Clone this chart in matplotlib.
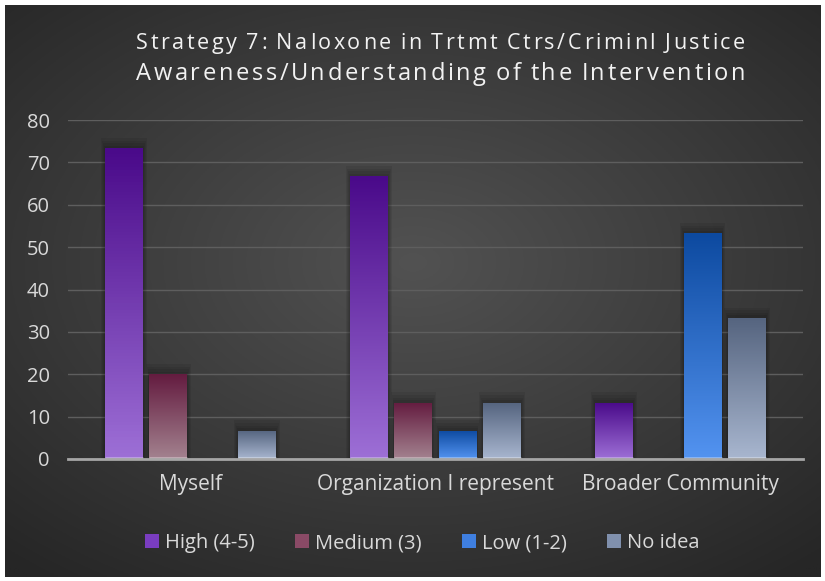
import numpy as np
import matplotlib
matplotlib.use('Agg')
import matplotlib.pyplot as plt
from matplotlib.colors import LinearSegmentedColormap
from matplotlib.patches import Patch

plt.rcParams['font.family'] = ['Open Sans', 'DejaVu Sans']

# 数据
categories = ['Myself', 'Organization I represent', 'Broader Community']
series_names = ['High (4-5)', 'Medium (3)', 'Low (1-2)', 'No idea']
high = [73.3, 66.7, 13.3]
medium = [20.0, 13.3, 0.0]
low = [0.0, 6.7, 53.3]
no_idea = [6.7, 13.3, 33.3]
yticks = [0, 10, 20, 30, 40, 50, 60, 70, 80]
title1 = 'Strategy 7: Naloxone in Trtmt Ctrs/Criminl Justice'
title2 = 'Awareness/Understanding of the Intervention'

series = [high, medium, low, no_idea]
# 渐变色 (顶部, 底部)
grads = [('#4a0a8a', '#9d6fd6'),
         ('#641c40', '#a3828f'),
         ('#0d4aa0', '#5393f0'),
         ('#55647f', '#a8b6cf')]
mids = ['#7a3dc0', '#8a4a66', '#3f7fe0', '#8090ad']

fig = plt.figure(figsize=(8.25, 5.81), dpi=100)
fig.patch.set_facecolor('white')

# 背景径向渐变
bg = fig.add_axes([5 / 825, 4 / 581, 815 / 825, 572 / 581])
bg.set_axis_off()
yy, xx = np.mgrid[0:1:300j, 0:1:400j]
r = np.sqrt(((xx - 0.5) / 0.75) ** 2 + ((yy - 0.45) / 0.7) ** 2)
r = np.clip(r, 0, 1)
c0 = np.array([0x52, 0x52, 0x52]) / 255
c1 = np.array([0x26, 0x26, 0x26]) / 255
img = c0[None, None, :] * (1 - r[..., None]) + c1[None, None, :] * r[..., None]
bg.imshow(img, extent=(0, 1, 0, 1), aspect='auto', origin='upper')
bg.set_xlim(0, 1)
bg.set_ylim(0, 1)

ax = fig.add_axes([68 / 825, 122 / 581, 735 / 825, 339 / 581])
ax.patch.set_alpha(0)

x = np.arange(len(categories))
width = 0.155
step = 0.18

for i, vals in enumerate(series):
    pos = x + (i - 1.5) * step
    # 阴影
    for k in range(1, 5):
        ax.bar(pos, [v + 0.6 * k if v > 0 else 0 for v in vals], width + 0.008 * k,
               color='black', alpha=0.07, linewidth=0, zorder=2)
    bars = ax.bar(pos, vals, width, color=mids[i], linewidth=0, zorder=3,
                  label=series_names[i])
    cmap = LinearSegmentedColormap.from_list('g%d' % i, [grads[i][0], grads[i][1]])
    for b in bars:
        h = b.get_height()
        if h <= 0:
            continue
        x0 = b.get_x()
        im = ax.imshow(np.linspace(0, 1, 100).reshape(-1, 1), cmap=cmap,
                       extent=(x0, x0 + b.get_width(), 0, h), aspect='auto',
                       origin='upper', zorder=4)
        im.set_clip_path(b)
        # 底部亮边
        ax.plot([x0, x0 + b.get_width()], [0.25, 0.25], color='white', alpha=0.35,
                lw=2, zorder=5, solid_capstyle='butt')

ax.set_xlim(-0.5, 2.5)
ax.set_ylim(0, 80)
ax.set_yticks(yticks)
ax.set_xticks(x)
ax.set_xticklabels(categories)
ax.tick_params(axis='both', length=0, colors='#d9d9d9')
ax.tick_params(axis='y', pad=13, labelsize=14.5)
ax.tick_params(axis='x', pad=11, labelsize=15)
ax.grid(axis='y', color='#5e5e5e', lw=1, zorder=0)
ax.set_axisbelow(True)
for s in ['top', 'right', 'left']:
    ax.spines[s].set_visible(False)
ax.spines['bottom'].set_color('#a6a6a6')
ax.spines['bottom'].set_linewidth(2)
ax.spines['bottom'].set_zorder(6)


# 字间距标题
def spaced_title(text, x_left, x_right, y, size):
    renderer = fig.canvas.get_renderer()
    widths = []
    for ch in text:
        t = fig.text(0, 0, ch.replace(' ', 'i'), fontsize=size)
        widths.append(t.get_window_extent(renderer).width)
        t.remove()
    widths = [w * (0.75 if ch == ' ' else 1) for w, ch in zip(widths, text)]
    W = fig.bbox.width
    gap = ((x_right - x_left) - sum(widths)) / (len(text) - 1)
    px = x_left
    for ch, w in zip(text, widths):
        fig.text(px / W, y, ch, fontsize=size, color='#f2f2f2', ha='left', va='center')
        px += w + gap


spaced_title(title1, 136, 745, 0.925, 15.5)
spaced_title(title2, 136, 745, 0.873, 17)

handles = [Patch(facecolor=mids[i], edgecolor='none') for i in range(4)]
fig.legend(handles, series_names, loc='center', bbox_to_anchor=(0.512, 0.065),
           ncol=4, frameon=False, fontsize=14.5, labelcolor='#d9d9d9',
           handlelength=0.7, handleheight=0.7, handletextpad=0.3, columnspacing=2.0)

fig.savefig('out.png', dpi=100, facecolor=fig.get_facecolor())
